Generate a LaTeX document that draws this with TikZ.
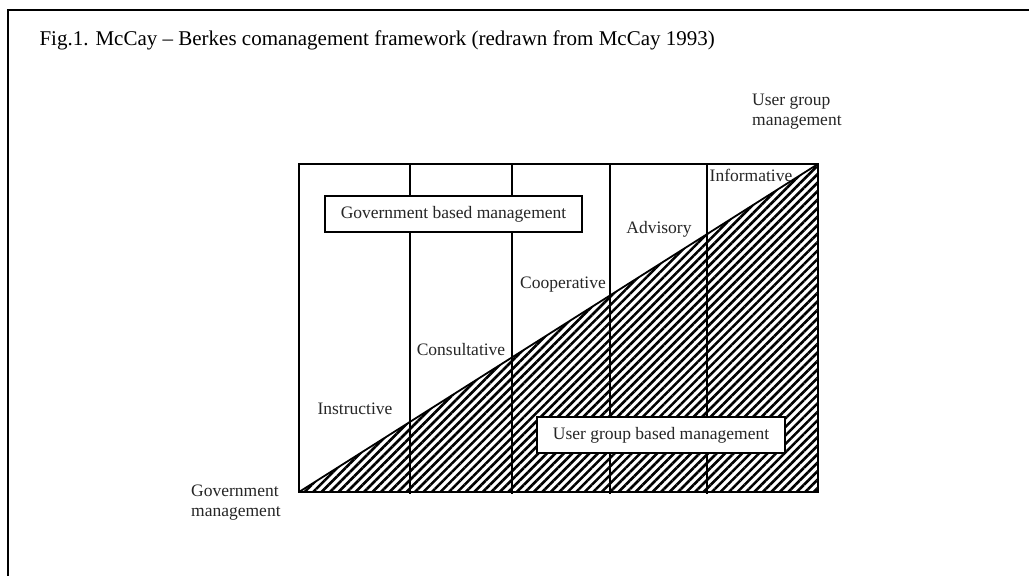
\documentclass[tikz,border=0pt]{standalone}
\usepackage{fontspec}
\setmainfont{Liberation Serif}
\usetikzlibrary{patterns.meta}

\begin{document}
\begin{tikzpicture}[x=1pt,y=-1pt]
\tikzstyle{lbl} = [text=black!85, font=\fontsize{17.5}{20}\selectfont, inner sep=0pt]
\tikzstyle{mbox} = [draw, line width=1.8pt, fill=white, minimum height=36pt, inner sep=0pt, font=\fontsize{17.5}{20}\selectfont, text=black!85]
\tikzstyle{rule} = [line width=1.8pt]
\useasboundingbox (0,0) rectangle (1029,576);
% outer frame, only left and top edges show
\draw[line width=2pt] (8,576) -- (8,10) -- (1029,10);
\node[anchor=base west, font=\fontsize{21}{25}\selectfont] (title) at (36,45)
  {Fig.1. McCay -- Berkes comanagement framework (redrawn from McCay 1993)};

% corners of the chart
\coordinate (ll) at (299,492);
\coordinate (ul) at (299,164);
\coordinate (ur) at (818,164);
\coordinate (lr) at (818,492);

% user group share
\fill[pattern={Lines[angle=45,distance=6pt,line width=2.6pt]}] (ll) -- (ur) -- (lr) -- cycle;
\draw[rule] (ll) -- (ur);

% stages
\foreach \x in {410,512,610,707}
  \draw[rule] (\x,164) -- (\x,494);
\draw[rule] (ll) rectangle (ur);
\draw[line width=2.6pt] (ll) -- (lr);

\node[mbox, minimum width=257pt] (gov) at (453.5,214) {Government based management};
\node[mbox, minimum width=248pt] (user) at (661,435) {User group based management};

\node[lbl] (instr) at (355,409) {Instructive};
\node[lbl] (consul) at (461,350) {Consultative};
\node[lbl] (coop) at (563,285) {Cooperative};
\node[lbl] (advis) at (659,229) {Advisory};
\node[lbl] (inform) at (751,175) {Informative};

\node[lbl, anchor=west, align=left] (usrmgmt) at (752,112) {User group\\management};
\node[lbl, anchor=west, align=left] (govmgmt) at (191,503) {Government\\management};
\end{tikzpicture}
\end{document}
